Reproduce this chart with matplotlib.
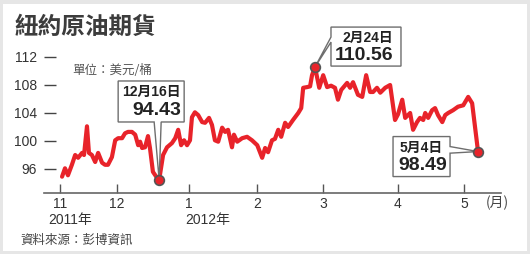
import matplotlib
matplotlib.use("Agg")
import matplotlib.pyplot as plt
from matplotlib.patches import Polygon, Rectangle

plt.rcParams['font.family'] = ['Liberation Sans', 'Noto Sans CJK TC']

# x = trading-day position from Nov 1 2011, y = price (USD / barrel)
days = [0, 0.9, 1.8, 3.0, 4.0, 4.9, 6.1, 6.7, 7.6, 8.2, 9.1, 10.1, 11.0, 12.2,
        13.1, 14.0, 15.2, 16.2, 17.1, 18.3, 19.2, 20.1, 21.3, 22.3, 23.2, 23.8,
        24.4, 25.3, 26.2, 26.8, 27.7, 29.0, 29.6, 30.8, 32.0, 33.5, 34.5, 35.4,
        36.3, 37.2, 38.1, 39.0, 39.6, 40.5, 41.5, 42.7, 43.6, 44.8, 45.7, 46.6,
        47.6, 48.8, 49.7, 50.6, 51.8, 52.4, 53.4, 54.9, 56.4, 57.9, 59.5, 61.0,
        61.9, 62.8, 64.0, 64.9, 65.9, 66.8, 68.0, 68.9, 70.4, 72.0, 72.9, 73.5,
        74.7, 75.6, 76.2, 77.1, 78.4, 79.6, 80.8, 82.0, 83.2, 84.1, 85.1, 86.9,
        87.8, 88.7, 90.2, 91.5, 92.7, 93.9, 94.8, 96.0, 97.0, 98.5, 100.0, 101.5,
        102.4, 103.7, 104.6, 106.1, 107.0, 108.2, 109.1, 110.1, 110.7, 111.6,
        112.8, 113.7, 114.6, 115.9, 116.8, 117.7, 119.2, 120.7, 122.3, 123.8,
        125.0, 126.8]
prices = [94.9, 96.1, 95.1, 96.6, 98.0, 97.6, 98.3, 98.0, 102.1, 98.3, 98.0, 97.0,
          98.3, 96.9, 96.6, 96.6, 97.7, 100.1, 100.4, 100.4, 101.1, 101.3, 101.3,
          100.9, 99.4, 99.9, 99.0, 99.1, 100.7, 99.0, 95.6, 94.7, 94.43, 98.0,
          99.1, 99.7, 100.4, 101.6, 99.4, 100.1, 99.4, 100.1, 103.4, 104.1, 103.7,
          102.7, 102.6, 103.3, 102.3, 100.1, 99.9, 101.9, 101.3, 101.6, 99.1,
          100.9, 99.9, 100.4, 100.6, 100.1, 99.4, 97.6, 99.0, 98.4, 100.1, 100.3,
          101.6, 100.6, 102.6, 102.0, 103.0, 104.0, 104.7, 107.6, 107.7, 107.8,
          109.4, 110.56, 107.6, 109.4, 107.7, 107.9, 107.6, 105.9, 107.3, 108.3,
          107.6, 108.4, 106.6, 106.3, 109.4, 107.0, 107.0, 107.6, 106.9, 107.6,
          108.0, 103.0, 103.8, 105.9, 103.3, 104.0, 101.6, 102.7, 103.3, 103.0,
          104.0, 103.3, 104.4, 104.7, 103.7, 102.7, 103.7, 104.0, 104.4, 104.9,
          105.1, 106.3, 105.4, 98.49]

month_pos = [-0.6, 16.8, 38.7, 59.5, 79.6, 102.4, 122.6]
month_labels = ['11', '12', '1', '2', '3', '4', '5']
y_ticks = [96, 100, 104, 108, 112]

# highlighted points
callout_days = [29.6, 77.1, 126.8]
callout_prices = [94.43, 110.56, 98.49]
callout_dates = ['12月16日', '2月24日', '5月4日']

RED = '#e8232a'
W, H = 530, 254

fig = plt.figure(figsize=(W / 100, H / 100), dpi=100, facecolor='#e6e6e6')
fig.patches.append(Rectangle((3 / W, 3 / H), 524 / W, 247 / H, transform=fig.transFigure,
                             facecolor='white', edgecolor='none', zorder=-1))

ax = fig.add_axes([44 / W, 61 / H, 457 / W, 150 / H])
ax.set_facecolor('none')
ax.plot(days, prices, color=RED, lw=3, solid_joinstyle='round', solid_capstyle='round', zorder=3)
ax.set_xlim(-5.5, 133.8)
ax.set_ylim(92.57, 114)

for s in ['top', 'right', 'left']:
    ax.spines[s].set_visible(False)
ax.spines['bottom'].set_color('#666666')
ax.spines['bottom'].set_linewidth(1.2)

ax.set_yticks(y_ticks)
ax.tick_params(axis='y', direction='in', length=8.5, width=1, color='#444444',
               pad=5, labelsize=10, labelcolor='#333333')
ax.set_xticks(month_pos)
ax.set_xticklabels(month_labels)
ax.tick_params(axis='x', direction='in', length=6.5, width=1, color='#555555',
               pad=3, labelsize=10, labelcolor='#333333')

# texts
cjk = ['Noto Sans CJK TC']
fig.text(15 / W, 1 - 27 / H, '紐約原油期貨', fontsize=17, fontweight='bold',
         color='#3c3c3c', va='center', family=cjk)
fig.text(72 / W, 1 - 71 / H, '單位：美元/桶', fontsize=9, color='#555555',
         va='center', family=cjk)
fig.text(497 / W, 1 - 203 / H, '(月)', fontsize=10, color='#444444',
         ha='center', va='center', family=cjk)
fig.text(48 / W, 1 - 220 / H, '2011年', fontsize=10, color='#333333', va='center')
fig.text(185 / W, 1 - 220 / H, '2012年', fontsize=10, color='#333333', va='center')
fig.text(20 / W, 1 - 240 / H, '資料來源：彭博資訊', fontsize=9, color='#444444',
         va='center', family=cjk)

# callout boxes, offsets in pixels from the point: box (L, R, B, T), tail side + base,
# date text pos, value text pos, alignment
layouts = [
    dict(box=(-41, 25, 58, 99), side='bottom', base=(-5, 2),
         date=(22, 88.5), value=(22, 69.5), ha='right'),
    dict(box=(16, 86, 1, 40), side='left', base=(25, 30),
         date=(78, 29.5), value=(78, 11.5), ha='right'),
    dict(box=(-85, -28, -25, 15), side='right', base=(-1.6, 5),
         date=(-78, 4), value=(-80, -13.5), ha='left'),
]

to_fig = fig.transFigure.inverted()

for x, v, label, lay in zip(callout_days, callout_prices, callout_dates, layouts):
    px, py = ax.transData.transform((x, v))

    def f(dx, dy):
        return to_fig.transform((px + dx, py + dy))

    L, R, B, T = lay['box']
    b0, b1 = lay['base']
    if lay['side'] == 'bottom':
        pts = [(L, B), (b0, B), (0, 0), (b1, B), (R, B), (R, T), (L, T)]
    elif lay['side'] == 'left':
        pts = [(L, B), (R, B), (R, T), (L, T), (L, b1), (0, 0), (L, b0)]
    else:
        pts = [(L, B), (R, B), (R, b0), (0, 0), (R, b1), (R, T), (L, T)]
    poly = Polygon([f(*p) for p in pts], closed=True, transform=fig.transFigure,
                   facecolor='white', edgecolor='#6e6e6e', lw=1, zorder=5, clip_on=False)
    ax.add_patch(poly)

    tx, ty = f(*lay['date'])
    ax.text(tx, ty, label, fontsize=10, fontweight='bold', color='#222222',
            ha=lay['ha'], va='center', zorder=7, transform=fig.transFigure)
    tx, ty = f(*lay['value'])
    ax.text(tx, ty, '%.2f' % v, fontsize=14, fontweight='bold', color='#222222',
            ha=lay['ha'], va='center', zorder=7, transform=fig.transFigure)

    ax.plot([x], [v], 'o', ms=7, mfc=RED, mec='#555555', mew=1.2, zorder=8, clip_on=False)

fig.savefig('out.png', dpi=100, facecolor=fig.get_facecolor())
